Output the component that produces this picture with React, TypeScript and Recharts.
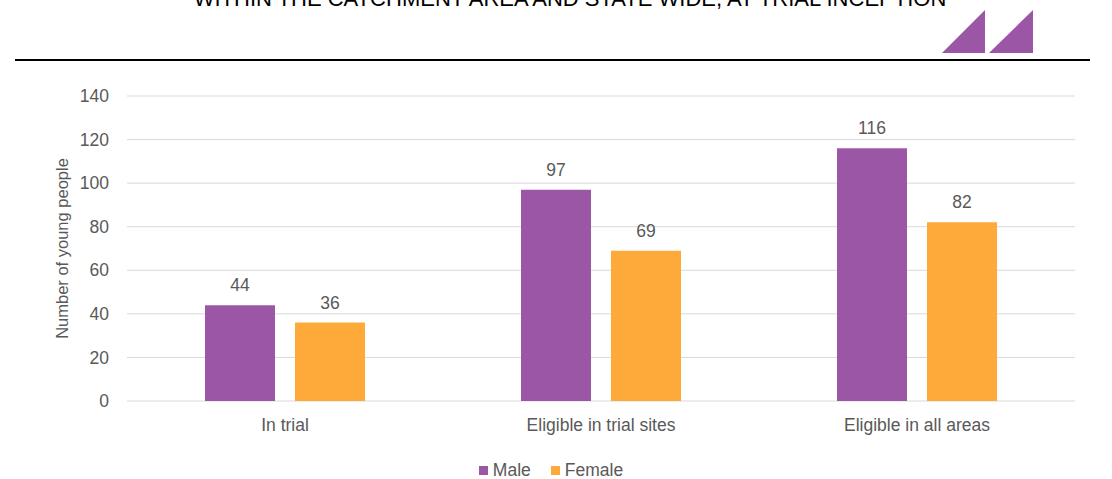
import * as React from 'react';
import {
  BarChart,
  Bar,
  XAxis,
  YAxis,
  CartesianGrid,
  Legend,
  LabelList,
  Label,
} from 'recharts';

const categories = ['In trial', 'Eligible in trial sites', 'Eligible in all areas'];
const seriesNames = ['Male', 'Female'];
const maleValues = [44, 97, 116];
const femaleValues = [36, 69, 82];
const yTicks = [0, 20, 40, 60, 80, 100, 120, 140];

const TITLE = 'WITHIN THE CATCHMENT AREA AND STATE WIDE, AT TRIAL INCEPTION';
const FONT = '"Liberation Sans", Arial, sans-serif';
const MALE = '#9C56A6';
const FEMALE = '#FDAA3B';
const GREY = '#595959';

const data = categories.map((name, i) => ({
  name,
  Male: maleValues[i],
  Female: femaleValues[i],
}));

// keep legend in series order (recharts 3 sorts by name otherwise)
const renderLegend = (props: any) => {
  const items = [...(props.payload || [])].sort(
    (a: any, b: any) => seriesNames.indexOf(a.value) - seriesNames.indexOf(b.value)
  );
  return (
    <div
      style={{
        display: 'flex',
        justifyContent: 'center',
        gap: 20,
        fontSize: 17.5,
        color: GREY,
        transform: 'translateY(2px)',
      }}
    >
      {items.map((it: any) => (
        <span key={it.value} style={{ display: 'flex', alignItems: 'center', gap: 5 }}>
          <span style={{ width: 9, height: 9, background: it.color, display: 'inline-block' }} />
          {it.value}
        </span>
      ))}
    </div>
  );
};

export default function App() {
  return (
    <div
      style={{
        position: 'absolute',
        left: 0,
        top: 0,
        width: 1112,
        height: 479,
        background: '#fff',
        overflow: 'hidden',
        fontFamily: FONT,
      }}
    >
      {/* header, cropped at the top like the source slide */}
      <div
        style={{
          position: 'absolute',
          top: -14,
          left: 0,
          width: 1140,
          textAlign: 'center',
          fontSize: 22,
          color: '#000',
          whiteSpace: 'nowrap',
        }}
      >
        {TITLE}
      </div>
      <svg style={{ position: 'absolute', left: 0, top: 0 }} width={1112} height={70}>
        <polygon points="942,53 985,53 985,10" fill={MALE} />
        <polygon points="989,53 1033,53 1033,10" fill={MALE} />
        <rect x={15} y={59} width={1075} height={2} fill="#000" />
      </svg>

      <div style={{ position: 'absolute', left: 0, top: 0 }}>
        <BarChart
          width={1112}
          height={479}
          data={data}
          margin={{ top: 96, right: 37, bottom: 0, left: 27 }}
          barGap={20}
        >
          <CartesianGrid horizontal vertical={false} stroke="#d9d9d9" strokeWidth={1} />
          <XAxis
            dataKey="name"
            axisLine={false}
            tickLine={false}
            tickMargin={12}
            height={57}
            tick={{ fill: GREY, fontSize: 17.5, fontFamily: FONT }}
          />
          <YAxis
            domain={[0, 140]}
            ticks={yTicks}
            width={100}
            axisLine={false}
            tickLine={false}
            tickMargin={12}
            tick={{ fill: GREY, fontSize: 17.5, fontFamily: FONT }}
          >
            <Label
              value="Number of young people"
              angle={-90}
              position="insideLeft"
              offset={35}
              style={{ textAnchor: 'middle', fill: GREY, fontSize: 16.5, fontFamily: FONT }}
            />
          </YAxis>
          <Legend verticalAlign="bottom" content={renderLegend} wrapperStyle={{ paddingBottom: 0 }} />
          <Bar dataKey="Male" fill={MALE} barSize={70} isAnimationActive={false}>
            <LabelList
              dataKey="Male"
              position="top"
              offset={14}
              style={{ fill: GREY, fontSize: 17.5, fontFamily: FONT }}
            />
          </Bar>
          <Bar dataKey="Female" fill={FEMALE} barSize={70} isAnimationActive={false}>
            <LabelList
              dataKey="Female"
              position="top"
              offset={14}
              style={{ fill: GREY, fontSize: 17.5, fontFamily: FONT }}
            />
          </Bar>
        </BarChart>
      </div>
    </div>
  );
}
